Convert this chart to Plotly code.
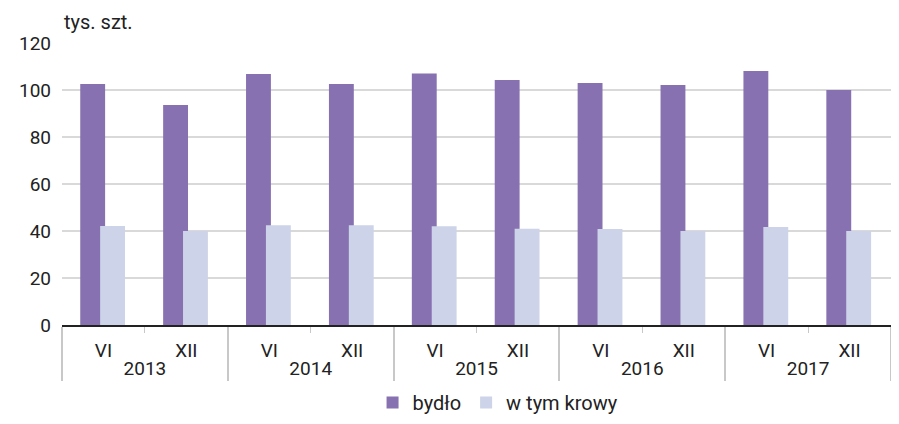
import plotly.graph_objects as go

years = ["2013", "2014", "2015", "2016", "2017"]
months = ["VI", "XII"]
bydlo = [102.6, 93.6, 106.8, 102.6, 107.0, 104.3, 103.0, 102.1, 108.1, 100.0]
krowy = [42.1, 40.0, 42.5, 42.5, 42.0, 41.0, 40.9, 40.0, 41.7, 40.0]

x = [[y for y in years for m in months], [m for y in years for m in months]]

font = "Roboto"

# slightly overlapping bars, like the source chart
fig = go.Figure([
    go.Bar(x=x, y=bydlo, name="bydło", marker_color="#8771B0", marker_line_width=0,
           width=0.3, offset=-0.28),
    go.Bar(x=x, y=krowy, name="w tym krowy", marker_color="#CDD3E8", marker_line_width=0,
           width=0.3, offset=-0.04),
])

# page body adds an 8px margin, so keep the figure 16px smaller than the window
fig.update_layout(
    width=883, height=408,
    margin=dict(l=54, r=0, t=35, b=91, autoexpand=False),
    plot_bgcolor="white", paper_bgcolor="white",
    barmode="overlay",
    font=dict(family=font, size=19, color="#222222"),
    legend=dict(orientation="h", x=0.526, xanchor="center", y=-0.275, yanchor="middle",
                font=dict(size=20), itemwidth=30),
    annotations=[dict(text="tys. szt.", xref="paper", yref="paper", x=0, y=1.075,
                      xanchor="left", yanchor="middle", showarrow=False,
                      font=dict(size=20))],
)
fig.update_yaxes(range=[0, 120], dtick=20, showgrid=True, gridcolor="#d9d9d9", gridwidth=1.5,
                 zeroline=False, ticks="", ticklabelstandoff=10, automargin=False)
fig.update_xaxes(showline=True, linecolor="#222222", linewidth=2, automargin=False,
                 ticks="outside", tickson="boundaries", ticklen=6, tickcolor="#c8c8c8",
                 ticklabelstandoff=7,
                 showdividers=True, dividercolor="#c8c8c8", dividerwidth=2)

fig.write_html("out.html")
